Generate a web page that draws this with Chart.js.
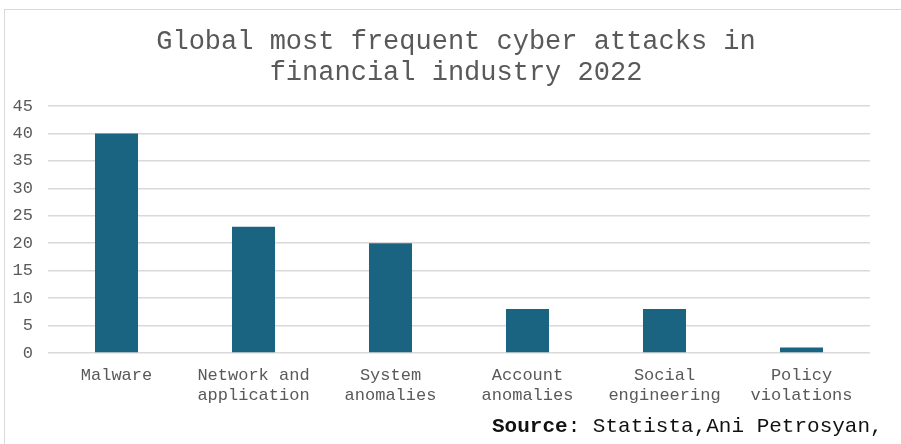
<!DOCTYPE html>
<html>
<head>
<meta charset="utf-8">
<script src="https://cdn.jsdelivr.net/npm/chart.js@4/dist/chart.umd.min.js"></script>
<style>
  html, body { margin: 0; padding: 0; background: #fff; }
  #wrap { position: relative; width: 901px; height: 444px; overflow: hidden; }
  #frame { position: absolute; left: 4px; top: 9px; width: 920px; height: 460px; border: 1px solid #d9d9d9; box-sizing: border-box; }
  #chart { position: absolute; left: 0; top: 0; }
  #source { position: absolute; left: 492px; top: 415px; font-family: 'Liberation Mono', 'Courier New', monospace; font-size: 21px; color: #111; white-space: pre; }
</style>
</head>
<body>
<div id="wrap">
  <div id="frame"></div>
  <canvas id="chart" width="901" height="444"></canvas>
  <div id="source"><b>Source</b>: Statista,Ani Petrosyan,</div>
</div>
<script>
// datos del gráfico
const categorias = [
    ['Malware'],
    ['Network and', 'application'],
    ['System', 'anomalies'],
    ['Account', 'anomalies'],
    ['Social', 'engineering'],
    ['Policy', 'violations']
];
const valores = [40, 23, 20, 8, 8, 1];
const tituloLineas = ['Global most frequent cyber attacks in', 'financial industry 2022'];

const fuente = "'Liberation Mono', 'Courier New', monospace";
const gris = '#595959';

// título centrado sobre todo el lienzo (no sobre el área del gráfico)
const tituloCentrado = {
    id: 'tituloCentrado',
    afterDraw(chart) {
        const c = chart.ctx;
        c.save();
        c.fillStyle = gris;
        c.font = '27px ' + fuente;
        c.textAlign = 'center';
        c.textBaseline = 'middle';
        tituloLineas.forEach((linea, i) => {
            c.fillText(linea, 456, 42 + i * 31);
        });
        c.restore();
    }
};

const ctx = document.getElementById('chart').getContext('2d');

const chart = new Chart(ctx, {
    type: 'bar',
    data: {
        labels: categorias,
        datasets: [{
            data: valores,
            backgroundColor: '#1a6482',
            categoryPercentage: 1,
            barPercentage: 0.314
        }]
    },
    plugins: [tituloCentrado],
    options: {
        responsive: false,
        animation: false,
        layout: {
            padding: { left: 0, right: 31, top: 106, bottom: 0 }
        },
        plugins: {
            legend: { display: false },
            tooltip: { enabled: false },
            title: { display: false }
        },
        scales: {
            x: {
                grid: { display: false },
                border: { display: false },
                ticks: {
                    color: gris,
                    font: { family: fuente, size: 17 },
                    maxRotation: 0,
                    autoSkip: false,
                    padding: 4
                },
                afterFit: function(scale) { scale.height = 91; }
            },
            y: {
                min: 0,
                max: 45,
                ticks: {
                    stepSize: 5,
                    color: gris,
                    font: { family: fuente, size: 17 },
                    padding: 15
                },
                grid: { color: '#d9d9d9', lineWidth: 1.5, drawTicks: false },
                border: { display: false },
                afterFit: function(scale) { scale.width = 48; }
            }
        }
    }
});
</script>
</body>
</html>
